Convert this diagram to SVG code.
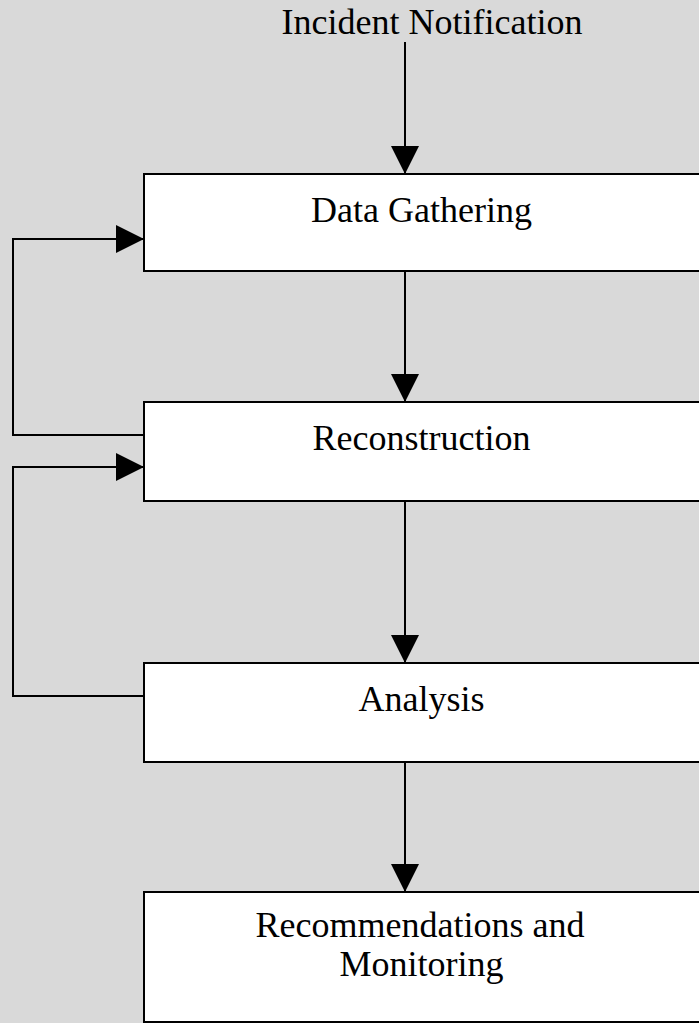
<svg xmlns="http://www.w3.org/2000/svg" width="699" height="1023" viewBox="0 0 699 1023">
<style>
.box{fill:#ffffff;stroke:#000000;stroke-width:2}
.lbl{font-family:"Liberation Serif","Times New Roman",serif;font-size:36px;fill:#000000;text-anchor:middle}
.con{fill:none;stroke:#000000;stroke-width:2}
</style>
<defs>
<marker id="arr" markerUnits="userSpaceOnUse" markerWidth="28" markerHeight="28" refX="27" refY="14" orient="auto" viewBox="0 0 28 28">
<path d="M0,0 L28,14 L0,28 Z" fill="#000000"/>
</marker>
</defs>
<rect x="0" y="0" width="699" height="1023" fill="#d9d9d9"/>
<g id="connectors">
<line class="con" x1="405" y1="42" x2="405" y2="173" marker-end="url(#arr)"/>
<line class="con" x1="405" y1="272" x2="405" y2="401" marker-end="url(#arr)"/>
<line class="con" x1="405" y1="502" x2="405" y2="662" marker-end="url(#arr)"/>
<line class="con" x1="405" y1="763" x2="405" y2="891" marker-end="url(#arr)"/>
<polyline class="con" points="144,435 13,435 13,239 143,239" marker-end="url(#arr)"/>
<polyline class="con" points="144,696 13,696 13,467 143,467" marker-end="url(#arr)"/>
</g>
<g id="incident">
<text class="lbl" x="432" y="34">Incident Notification</text>
</g>
<g id="data-gathering">
<rect class="box" x="144" y="174" width="600" height="97"/>
<text class="lbl" x="421.5" y="222">Data Gathering</text>
</g>
<g id="reconstruction">
<rect class="box" x="144" y="402" width="600" height="99"/>
<text class="lbl" x="421.5" y="450">Reconstruction</text>
</g>
<g id="analysis">
<rect class="box" x="144" y="663" width="600" height="99"/>
<text class="lbl" x="421.5" y="711">Analysis</text>
</g>
<g id="recommendations">
<rect class="box" x="144" y="892" width="600" height="130"/>
<text class="lbl" x="420" y="937">Recommendations and</text>
<text class="lbl" x="421.5" y="976">Monitoring</text>
</g>
</svg>
